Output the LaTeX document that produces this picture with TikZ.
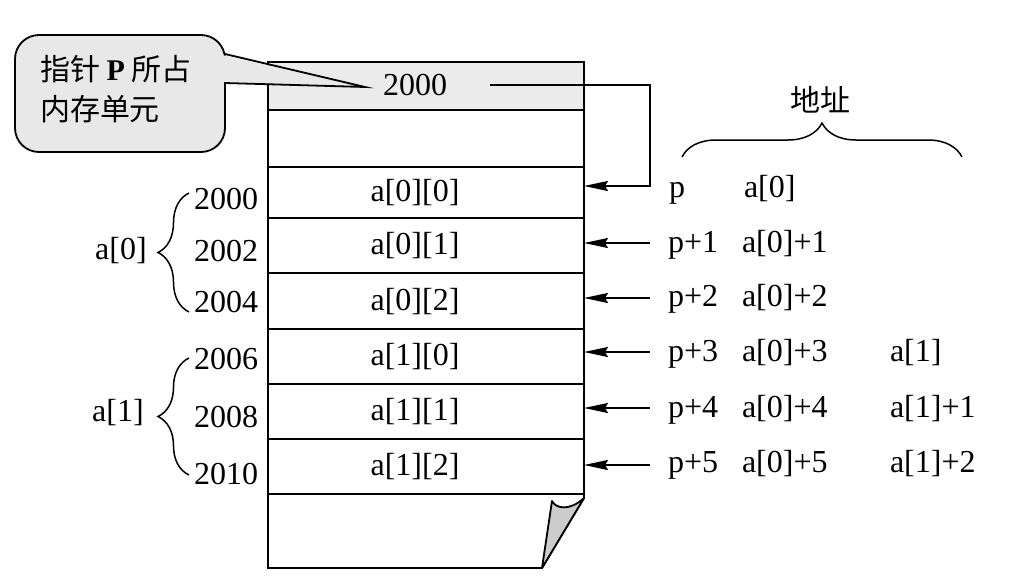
\documentclass[tikz,border=0pt]{standalone}
\usepackage{fontspec}
\setmainfont{Liberation Serif}
\newfontfamily\cjk{Noto Sans CJK SC}
\usetikzlibrary{arrows.meta,decorations.pathreplacing}
\newcommand{\lft}[1]{#1\hspace*{22pt}}
\begin{document}
\begin{tikzpicture}[x=1pt,y=-1pt,
  line width=1.8pt,
  every node/.style={font=\fontsize{32}{36}\selectfont, inner sep=0pt, outer sep=0pt},
  cell/.style={draw, minimum width=316pt, text height=23pt, text depth=5pt},
  lbl/.style={anchor=west, text height=23pt, text depth=5pt},
  addr/.style={anchor=east, text height=23pt, text depth=5pt},
  arr/.style={-{Stealth[length=24pt,width=10pt,inset=3pt]}},
  brc/.style={decorate, decoration={brace, amplitude=#1}, line width=1.5pt},
  cjkfont/.style={font=\cjk\fontsize{30}{40}\selectfont}
]
\useasboundingbox (0,0) rectangle (1010,584);
% memory cells
\node[cell, fill=black!8, minimum height=48pt] (g) at (426,86) {\lft{2000}};
\node[cell, minimum height=57pt] (e) at (426,138.5) {};
\node[cell, minimum height=51pt] (c0) at (426,192.5) {\lft{a[0][0]}};
\node[cell, minimum height=55pt] (c1) at (426,245.5) {\lft{a[0][1]}};
\node[cell, minimum height=56pt] (c2) at (426,301) {\lft{a[0][2]}};
\node[cell, minimum height=55pt] (c3) at (426,356.5) {\lft{a[1][0]}};
\node[cell, minimum height=55pt] (c4) at (426,411.5) {\lft{a[1][1]}};
\node[cell, minimum height=55pt] (c5) at (426,466.5) {\lft{a[1][2]}};
% last cell with page curl
\draw (268,494) -- (268,568) -- (542,568) -- (584,498) -- (584,494);
\draw[fill=black!20, line join=round] (542,568) -- (552,501) .. controls (556,509) and (570,511) .. (584,498) -- cycle;
% callout
\node[draw, fill=black!9, rounded corners=24pt, minimum width=210pt, minimum height=117pt] (call) at (120,93.5) {};
\fill[black!9] (222,55) -- (365,87) -- (222,82) -- cycle;
\draw[line join=miter] (225,54) -- (365,87) -- (225,83);
\node[cjkfont, align=left, anchor=north west] (ct) at (40,55) {指针 {\rmfamily\bfseries P} 所占\\内存单元};
% pointer from 2000
\coordinate (ps) at (490,85);
\coordinate (pb) at (650,186);
\draw[arr] (ps) -| (pb) -- (pb -| c0.east);
% right arrows
\coordinate (r1) at (650,243);
\coordinate (r2) at (650,298);
\coordinate (r3) at (650,352);
\coordinate (r4) at (650,408);
\coordinate (r5) at (650,465);
\draw[arr] (r1) -- (r1 -| c1.east);
\draw[arr] (r2) -- (r2 -| c2.east);
\draw[arr] (r3) -- (r3 -| c3.east);
\draw[arr] (r4) -- (r4 -| c4.east);
\draw[arr] (r5) -- (r5 -| c5.east);
% right labels
\node[lbl] (p0) at (669,188) {p};
\node[lbl] (q0) at (744,188) {a[0]};
\node[lbl] (p1) at (668,243) {p+1};
\node[lbl] (q1) at (742,243) {a[0]+1};
\node[lbl] (p2) at (668,297) {p+2};
\node[lbl] (q2) at (742,297) {a[0]+2};
\node[lbl] (p3) at (668,352) {p+3};
\node[lbl] (q3) at (742,352) {a[0]+3};
\node[lbl] (s3) at (890,352) {a[1]};
\node[lbl] (p4) at (668,408) {p+4};
\node[lbl] (q4) at (742,408) {a[0]+4};
\node[lbl] (s4) at (890,408) {a[1]+1};
\node[lbl] (p5) at (668,463) {p+5};
\node[lbl] (q5) at (742,463) {a[0]+5};
\node[lbl] (s5) at (890,463) {a[1]+2};
% address brace
\coordinate (ba) at (682,157);
\coordinate (bb) at (962,157);
\draw[brc=34pt] (ba) -- (bb);
\node[cjkfont] (dz) at (820,100) {地址};
% left addresses
\node[addr] (d0) at (258,200) {2000};
\node[addr] (d1) at (258,252) {2002};
\node[addr] (d2) at (258,303) {2004};
\node[addr] (d3) at (258,360) {2006};
\node[addr] (d4) at (258,418) {2008};
\node[addr] (d5) at (258,475) {2010};
\coordinate (la) at (189,312);
\coordinate (lb) at (189,193);
\coordinate (lc) at (189,475);
\coordinate (ld) at (189,358);
\draw[brc=31pt] (la) -- (lb);
\draw[brc=31pt] (lc) -- (ld);
\node[text height=23pt, text depth=5pt] (a0) at (121,250) {a[0]};
\node[text height=23pt, text depth=5pt] (a1) at (118,412) {a[1]};
\end{tikzpicture}
\end{document}
